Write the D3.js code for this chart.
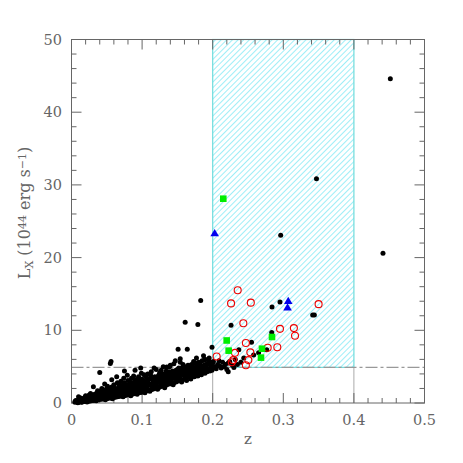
<!DOCTYPE html>
<html>
<head>
<meta charset="utf-8">
<title>Lx vs z</title>
<script src="https://cdn.jsdelivr.net/npm/d3@7"></script>
<style>
  body { margin: 0; background: #fff; }
  text { font-family: "DejaVu Serif", "Liberation Serif", serif; fill: #666; }
</style>
</head>
<body>
<svg width="463" height="463"></svg>
<script>
// black points: [z, Lx]
var sample = [
  [0.005,0.1],[0.005,0.2],[0.008,0.15],[0.008,0.3],[0.010,0.1],[0.010,0.4],[0.010,0.87],
  [0.012,0.2],[0.012,0.5],[0.015,0.15],[0.015,0.35],[0.015,0.6],[0.018,0.2],[0.018,0.45],
  [0.020,0.25],[0.020,0.6],[0.020,1.0],[0.023,0.3],[0.023,0.55],[0.025,0.25],[0.025,0.7],[0.025,1.1],
  [0.028,0.3],[0.028,0.6],[0.028,0.9],[0.031,0.35],[0.031,0.8],[0.031,2.25],[0.033,0.4],[0.033,0.7],[0.033,1.2],
  [0.036,0.4],[0.036,0.9],[0.036,1.4],[0.038,0.45],[0.038,0.75],[0.038,1.1],
  [0.040,0.5],[0.040,1.0],[0.040,1.6],[0.040,4.2],[0.042,0.5],[0.042,0.8],[0.042,1.3],
  [0.045,0.55],[0.045,1.1],[0.045,1.8],[0.047,0.6],[0.047,0.9],[0.047,1.4],[0.047,2.6],
  [0.050,0.6],[0.050,1.0],[0.050,1.5],[0.050,2.0],[0.052,0.65],[0.052,1.2],[0.052,1.7],
  [0.055,0.7],[0.055,1.1],[0.055,1.6],[0.055,5.45],[0.056,5.7],[0.057,0.75],[0.057,1.3],[0.057,2.2],[0.057,3.2],
  [0.060,0.8],[0.060,1.2],[0.060,1.8],[0.060,2.5],[0.062,0.8],[0.062,1.4],[0.062,2.0],
  [0.065,0.85],[0.065,1.3],[0.065,1.9],[0.065,2.8],[0.067,0.9],[0.067,1.5],[0.067,2.3],
  [0.070,0.95],[0.070,1.4],[0.070,2.0],[0.070,3.0],[0.072,1.0],[0.072,1.6],[0.072,2.4],
  [0.075,1.0],[0.075,1.5],[0.075,2.1],[0.075,2.8],[0.075,4.4],[0.077,1.05],[0.077,1.7],[0.077,2.5],
  [0.080,1.1],[0.080,1.6],[0.080,2.2],[0.080,3.1],[0.082,1.15],[0.082,1.8],[0.082,2.6],
  [0.085,1.2],[0.085,1.7],[0.085,2.3],[0.085,3.4],[0.087,1.25],[0.087,1.9],[0.087,2.8],
  [0.090,1.3],[0.090,1.8],[0.090,2.5],[0.090,3.2],[0.090,4.5],[0.092,1.35],[0.092,2.0],[0.092,2.7],
  [0.095,1.4],[0.095,2.1],[0.095,2.9],[0.095,3.6],[0.098,1.45],[0.098,2.2],[0.098,3.0],[0.098,4.8],
  [0.100,1.5],[0.100,2.0],[0.100,2.6],[0.100,3.3],[0.103,1.6],[0.103,2.3],[0.103,3.0],[0.103,3.9],
  [0.105,1.65],[0.105,2.2],[0.105,2.8],[0.108,1.7],[0.108,2.4],[0.108,3.1],[0.108,4.0],
  [0.110,1.8],[0.110,2.5],[0.110,3.3],[0.113,1.85],[0.113,2.6],[0.113,3.4],[0.113,4.3],
  [0.115,1.9],[0.115,2.7],[0.115,3.2],[0.118,2.0],[0.118,2.8],[0.118,3.6],
  [0.120,2.05],[0.120,2.6],[0.120,3.4],[0.120,4.6],[0.123,2.1],[0.123,2.9],[0.123,3.7],
  [0.125,2.2],[0.125,3.0],[0.125,3.5],[0.125,4.2],[0.128,2.3],[0.128,3.1],[0.128,3.9],
  [0.130,2.35],[0.130,3.2],[0.130,4.0],[0.130,5.0],[0.133,2.4],[0.133,3.0],[0.133,3.8],
  [0.135,2.5],[0.135,3.3],[0.135,4.1],[0.135,4.95],[0.138,2.6],[0.138,3.4],[0.138,4.3],
  [0.140,2.65],[0.140,3.5],[0.140,4.0],[0.140,5.2],[0.143,2.75],[0.143,3.6],[0.143,4.4],
  [0.145,2.8],[0.145,3.4],[0.145,4.2],[0.145,5.4],[0.148,2.9],[0.148,3.7],[0.148,4.5],
  [0.150,3.0],[0.150,3.8],[0.150,4.6],[0.151,7.4],[0.152,3.1],[0.152,4.0],[0.152,4.8],
  [0.154,3.15],[0.154,3.9],[0.154,5.6],[0.154,6.1],[0.157,3.2],[0.157,4.1],[0.157,4.9],
  [0.160,3.3],[0.160,4.2],[0.160,5.0],[0.161,11.1],[0.162,3.4],[0.162,4.0],[0.162,4.7],
  [0.164,3.5],[0.164,4.3],[0.164,7.4],[0.167,3.6],[0.167,4.4],[0.167,5.1],
  [0.170,3.7],[0.170,4.5],[0.170,5.3],[0.172,3.8],[0.172,4.6],[0.172,5.0],
  [0.175,3.9],[0.175,4.7],[0.175,5.5],[0.178,4.0],[0.178,4.8],[0.178,5.2],[0.179,10.8],
  [0.180,4.1],[0.180,4.9],[0.180,5.6],[0.183,4.2],[0.183,5.0],[0.183,14.1],
  [0.185,4.3],[0.185,5.1],[0.185,5.8],[0.188,4.4],[0.188,5.2],[0.188,5.9],
  [0.190,4.5],[0.190,5.3],[0.190,6.0],[0.193,4.6],[0.193,5.4],[0.195,4.7],[0.195,5.5],[0.195,6.2],
  [0.198,4.8],[0.198,5.6],[0.199,7.66],[0.200,4.9],[0.200,5.5],
  [0.203,5.0],[0.207,5.3],[0.210,5.1],[0.214,5.6],[0.218,5.3],[0.222,5.5],[0.222,4.3],[0.226,10.7],
  [0.228,5.2],[0.232,6.0],[0.237,7.33],[0.240,5.6],[0.244,6.2],[0.255,8.35],[0.258,6.6],
  [0.265,6.9],[0.2765,7.33],[0.2836,9.7],[0.284,13.2],[0.2953,13.9],[0.2963,23.07],
  [0.3416,12.1],[0.344,12.1],[0.347,30.85],[0.4412,20.6],[0.4516,44.6],
  // scattered ones between the rows
  [0.006,0.35],[0.009,0.05],[0.011,0.25],[0.013,0.7],[0.014,0.1],[0.016,0.5],[0.017,0.3],[0.019,0.8],
  [0.021,0.4],[0.022,0.15],[0.024,0.9],[0.026,0.45],[0.027,1.3],[0.029,0.5],[0.030,1.1],[0.032,0.55],
  [0.034,1.0],[0.035,0.3],[0.037,1.7],[0.039,0.6],[0.041,1.2],[0.043,2.0],[0.044,0.7],[0.046,1.5],
  [0.048,0.45],[0.049,1.2],[0.051,2.3],[0.053,0.9],[0.054,1.9],[0.056,1.4],[0.058,0.6],[0.059,2.1],
  [0.061,1.0],[0.063,1.7],[0.064,3.6],[0.066,1.1],[0.068,2.6],[0.069,1.2],[0.071,1.8],[0.073,0.85],
  [0.074,3.4],[0.076,1.3],[0.078,2.0],[0.079,3.8],[0.081,1.4],[0.083,2.9],[0.084,1.0],[0.086,2.1],
  [0.088,3.7],[0.089,1.55],[0.091,2.3],[0.093,1.2],[0.094,3.3],[0.096,1.7],[0.097,2.5],[0.099,4.1],
  [0.101,1.8],[0.102,2.8],[0.104,1.4],[0.106,3.5],[0.107,2.0],[0.109,2.7],[0.111,1.6],[0.112,3.8],
  [0.114,2.3],[0.116,3.0],[0.117,4.8],[0.119,2.4],[0.121,3.1],[0.122,1.9],[0.124,3.9],[0.126,2.6],
  [0.127,4.5],[0.129,2.7],[0.131,3.6],[0.132,2.1],[0.134,4.4],[0.136,2.9],[0.137,3.8],[0.139,5.0],
  [0.141,3.1],[0.142,4.2],[0.144,2.5],[0.146,3.9],[0.147,5.8],[0.149,3.3],[0.151,4.3],[0.153,3.5],
  [0.155,4.5],[0.156,2.9],[0.158,5.3],[0.159,3.8],[0.161,4.6],[0.163,3.1],[0.165,5.2],[0.166,4.0],
  [0.168,4.8],[0.169,3.3],[0.171,4.2],[0.173,5.7],[0.174,3.6],[0.176,4.4],[0.177,6.2],[0.179,3.7],
  [0.181,4.6],[0.182,5.4],[0.184,3.9],[0.186,4.7],[0.187,6.5],[0.189,4.1],[0.191,5.0],[0.192,4.3],
  [0.194,5.9],[0.196,4.4],[0.197,5.2],[0.199,4.5],[0.201,5.7],[0.205,4.7],[0.209,5.8],[0.212,4.8],
  [0.216,5.0],[0.220,4.6],[0.224,5.7],[0.230,4.9],[0.235,5.3]
];
// red open circles
var circles = [
  [0.2354,15.5],[0.226,13.7],[0.254,13.8],[0.350,13.6],[0.2434,10.96],[0.2953,10.2],
  [0.315,10.3],[0.3166,9.26],[0.247,8.25],[0.2316,6.9],[0.2533,6.97],[0.2779,7.6],
  [0.2915,7.66],[0.2505,5.9],[0.229,5.9],[0.227,5.6],[0.2056,6.4],[0.247,5.2]
];
// green filled squares
var squares = [
  [0.215,28.1],[0.2198,8.6],[0.2226,7.2],[0.284,9.08],[0.2698,7.47],[0.2684,6.24]
];
// blue filled triangles
var triangles = [
  [0.2028,23.3],[0.307,14.0],[0.306,13.1]
];
var zBox = [0.2, 0.4];
var lCut = 4.9;
var xTicks = [0, 0.1, 0.2, 0.3, 0.4, 0.5];
var yTicks = [0, 10, 20, 30, 40, 50];

var svg = d3.select("svg");
var pLeft = 71.5, pRight = 424.5, pTop = 39.5, pBottom = 403;

var x = d3.scaleLinear().domain([0, 0.5]).range([pLeft, pRight]);
var y = d3.scaleLinear().domain([0, 50]).range([pBottom, pTop]);

// hatch pattern
var defs = svg.append("defs");
var pat = defs.append("pattern")
    .attr("id", "hatch")
    .attr("patternUnits", "userSpaceOnUse")
    .attr("width", 4).attr("height", 4)
    .attr("patternTransform", "rotate(45)");
pat.append("line")
    .attr("x1", 0).attr("y1", 0).attr("x2", 0).attr("y2", 4)
    .attr("stroke", "#7de9f4").attr("stroke-width", 1.5);

svg.append("rect")
    .attr("x", x(zBox[0])).attr("y", y(50))
    .attr("width", x(zBox[1]) - x(zBox[0]))
    .attr("height", y(lCut) - y(50))
    .attr("fill", "url(#hatch)")
    .attr("stroke", "#6fdcdc").attr("stroke-width", 1.2);

// gray lines below the cut
zBox.forEach(function(z) {
  svg.append("line")
      .attr("x1", x(z)).attr("x2", x(z))
      .attr("y1", y(0)).attr("y2", y(lCut))
      .attr("stroke", "#aaa").attr("stroke-width", 1);
});
svg.append("line")
    .attr("x1", x(0)).attr("x2", x(0.5))
    .attr("y1", y(lCut)).attr("y2", y(lCut))
    .attr("stroke", "#999").attr("stroke-width", 1.3)
    .attr("stroke-dasharray", "12,3,3,3");

// frame and ticks
var axis = svg.append("g").attr("stroke", "#666").attr("stroke-width", 1);
axis.append("rect")
    .attr("x", pLeft).attr("y", pTop)
    .attr("width", pRight - pLeft).attr("height", pBottom - pTop)
    .attr("fill", "none");

d3.range(0, 0.5001, 0.02).forEach(function(z, i) {
  var len = (i % 5 === 0) ? 10 : 5;
  axis.append("line").attr("x1", x(z)).attr("x2", x(z)).attr("y1", pBottom).attr("y2", pBottom - len);
  axis.append("line").attr("x1", x(z)).attr("x2", x(z)).attr("y1", pTop).attr("y2", pTop + len);
});
d3.range(0, 50.001, 2).forEach(function(v, i) {
  var len = (i % 5 === 0) ? 10 : 5;
  axis.append("line").attr("x1", pLeft).attr("x2", pLeft + len).attr("y1", y(v)).attr("y2", y(v));
  axis.append("line").attr("x1", pRight).attr("x2", pRight - len).attr("y1", y(v)).attr("y2", y(v));
});

svg.selectAll(".xl").data(xTicks).enter().append("text")
    .attr("x", function(d) { return x(d); })
    .attr("y", 425)
    .attr("text-anchor", "middle")
    .attr("font-size", 14.5)
    .text(function(d) { return d === 0 ? "0" : d3.format(".1f")(d); });

svg.selectAll(".yl").data(yTicks).enter().append("text")
    .attr("x", 62)
    .attr("y", function(d) { return y(d) + 5; })
    .attr("text-anchor", "end")
    .attr("font-size", 14.5)
    .text(function(d) { return d; });

svg.append("text")
    .attr("x", (pLeft + pRight) / 2).attr("y", 444)
    .attr("text-anchor", "middle").attr("font-size", 15)
    .text("z");

var yl = svg.append("text")
    .attr("transform", "translate(30,213) rotate(-90)")
    .attr("text-anchor", "middle").attr("font-size", 16);
yl.append("tspan").text("L");
yl.append("tspan").attr("font-size", 11).attr("baseline-shift", "-25%").text("X");
yl.append("tspan").text(" (10");
yl.append("tspan").attr("font-size", 11).attr("baseline-shift", "40%").text("44");
yl.append("tspan").text(" erg s");
yl.append("tspan").attr("font-size", 11).attr("baseline-shift", "40%").text("−1");
yl.append("tspan").text(")");

// data marks
svg.append("g").selectAll("circle").data(sample).enter().append("circle")
    .attr("cx", function(d) { return x(d[0]); })
    .attr("cy", function(d) { return y(d[1]); })
    .attr("r", 2.5)
    .attr("fill", "#000");

svg.append("g").selectAll("circle").data(circles).enter().append("circle")
    .attr("cx", function(d) { return x(d[0]); })
    .attr("cy", function(d) { return y(d[1]); })
    .attr("r", 3.5)
    .attr("fill", "none")
    .attr("stroke", "#e00").attr("stroke-width", 1.1);

svg.append("g").selectAll("rect").data(squares).enter().append("rect")
    .attr("x", function(d) { return x(d[0]) - 3.3; })
    .attr("y", function(d) { return y(d[1]) - 3.3; })
    .attr("width", 6.6).attr("height", 6.6)
    .attr("fill", "#0e0");

svg.append("g").selectAll("path").data(triangles).enter().append("path")
    .attr("transform", function(d) { return "translate(" + x(d[0]) + "," + y(d[1]) + ")"; })
    .attr("d", "M0,-4.5L4.3,2.7L-4.3,2.7Z")
    .attr("fill", "#00e");
</script>
</body>
</html>
